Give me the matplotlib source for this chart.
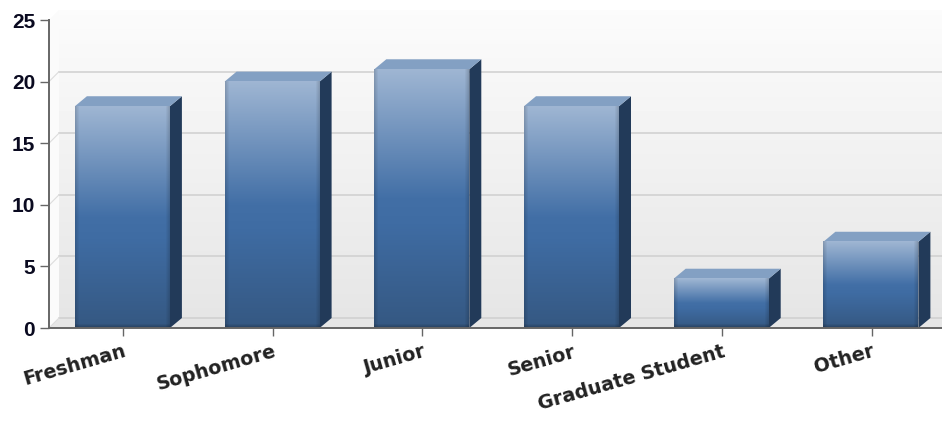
"""
Student classification bar chart with a fake 3D look.
"""

import matplotlib

matplotlib.use("Agg")
import matplotlib.pyplot as plt
import numpy as np
from matplotlib.patches import Polygon

categories = ["Freshman", "Sophomore", "Junior", "Senior", "Graduate Student", "Other"]
counts = [18, 20, 21, 18, 4, 7]
y_ticks = [0, 5, 10, 15, 20, 25]

FIG_W, FIG_H = 942, 426
LEFT, RIGHT, TOP, BOTTOM = 49, 942, 20, 328
STEP_PX = 149.7
UNIT_PX = (BOTTOM - TOP) / 25
BAR_PX = 95
DEPTH_X = 12 / STEP_PX
DEPTH_Y = 10 / UNIT_PX
WALL_X = 10 / STEP_PX
WALL_Y = 10 / UNIT_PX
X0 = -(123 - LEFT) / STEP_PX
X1 = X0 + (RIGHT - LEFT) / STEP_PX


def bar_gradient(h_px, w_px):
    """RGB image of a bar face: vertical ramp, darker along the edges."""
    stops = [0.0, 0.5, 0.6, 1.0]
    top = np.array([[0x9f, 0xb6, 0xd3], [0x42, 0x6f, 0xa6], [0x3f, 0x6c, 0xa3], [0x35, 0x58, 0x82]]) / 255
    rows = np.linspace(0, 1, h_px)
    img = np.stack([np.interp(rows, stops, top[:, c]) for c in range(3)], axis=1)
    img = np.repeat(img[:, None, :], w_px, axis=1)
    cols = np.arange(w_px)
    edge = np.minimum(cols, w_px - 1 - cols)
    shade = 0.85 + 0.15 * np.clip(edge / 4, 0, 1)
    fade = np.clip((h_px - 1 - np.arange(h_px)) / 4, 0, 1)
    img = img * shade[None, :, None]
    return img * (0.75 + 0.25 * fade)[:, None, None]


fig = plt.figure(figsize=(FIG_W / 100, FIG_H / 100), dpi=100)
ax = fig.add_axes([LEFT / FIG_W, 1 - BOTTOM / FIG_H, (RIGHT - LEFT) / FIG_W, (BOTTOM - TOP) / FIG_H])
ax.patch.set_visible(False)

# back wall, side wall and floor
wall = np.linspace(0.985, 0.9, 64)[:, None]
ax.imshow(wall, cmap="gray", vmin=0, vmax=1, aspect="auto", zorder=1, clip_on=False,
          extent=(X0 + WALL_X, X1, WALL_Y, 25 + WALL_Y))
side = Polygon([(X0, 0), (X0 + WALL_X, WALL_Y), (X0 + WALL_X, 25 + WALL_Y), (X0, 25)],
               facecolor="#fbfbfb", edgecolor="none", zorder=1.1, clip_on=False)
ax.add_patch(side)
floor = Polygon([(X0, 0), (X0 + WALL_X, WALL_Y), (X1, WALL_Y), (X1, 0)],
                facecolor="#e6e6e6", edgecolor="none", zorder=1.2)
ax.add_patch(floor)

for v in y_ticks[:-1]:
    ax.plot([X0 + WALL_X, X1], [v + WALL_Y, v + WALL_Y], color="#cfcfcf", lw=1.1, zorder=1.5, clip_on=False)
    ax.plot([X0, X0 + WALL_X], [v, v + WALL_Y], color="#dddddd", lw=0.8, zorder=1.5, clip_on=False)

# bars
half = BAR_PX / STEP_PX / 2
for i, val in enumerate(counts):
    x_l, x_r = i - half - 0.004, i + half - 0.004
    h_px = int(round(val * UNIT_PX))
    ax.imshow(bar_gradient(h_px, BAR_PX), aspect="auto", zorder=3, extent=(x_l, x_r, 0, val))
    ax.add_patch(Polygon([(x_r, 0), (x_r + DEPTH_X, DEPTH_Y), (x_r + DEPTH_X, val + DEPTH_Y), (x_r, val)],
                         facecolor="#223a59", edgecolor="none", zorder=2.8))
    ax.add_patch(Polygon([(x_l, val), (x_l + DEPTH_X, val + DEPTH_Y), (x_r + DEPTH_X, val + DEPTH_Y), (x_r, val)],
                         facecolor="#83a0c3", edgecolor="none", zorder=2.8))

ax.set_xlim(X0, X1)
ax.set_ylim(0, 25)

for name in ["top", "right"]:
    ax.spines[name].set_visible(False)
for name in ["left", "bottom"]:
    ax.spines[name].set_color("#666666")
    ax.spines[name].set_linewidth(1.4)
    ax.spines[name].set_zorder(4)

ax.set_yticks(y_ticks)
ax.set_yticklabels([str(v) for v in y_ticks], family="Liberation Sans", fontweight="bold",
                   fontsize=15, color="#0a0a20")
ax.set_xticks(range(len(categories)))
ax.set_xticklabels(categories, family="DejaVu Sans", fontweight="bold", fontsize=13.8, color="#222222",
                   rotation=16, ha="right", rotation_mode="anchor")
ax.tick_params(axis="y", length=6.5, width=1, color="#666666", pad=3.5)
ax.tick_params(axis="x", length=6, width=1, color="#666666", pad=4)

fig.savefig("out.png", dpi=100)
plt.close(fig)
